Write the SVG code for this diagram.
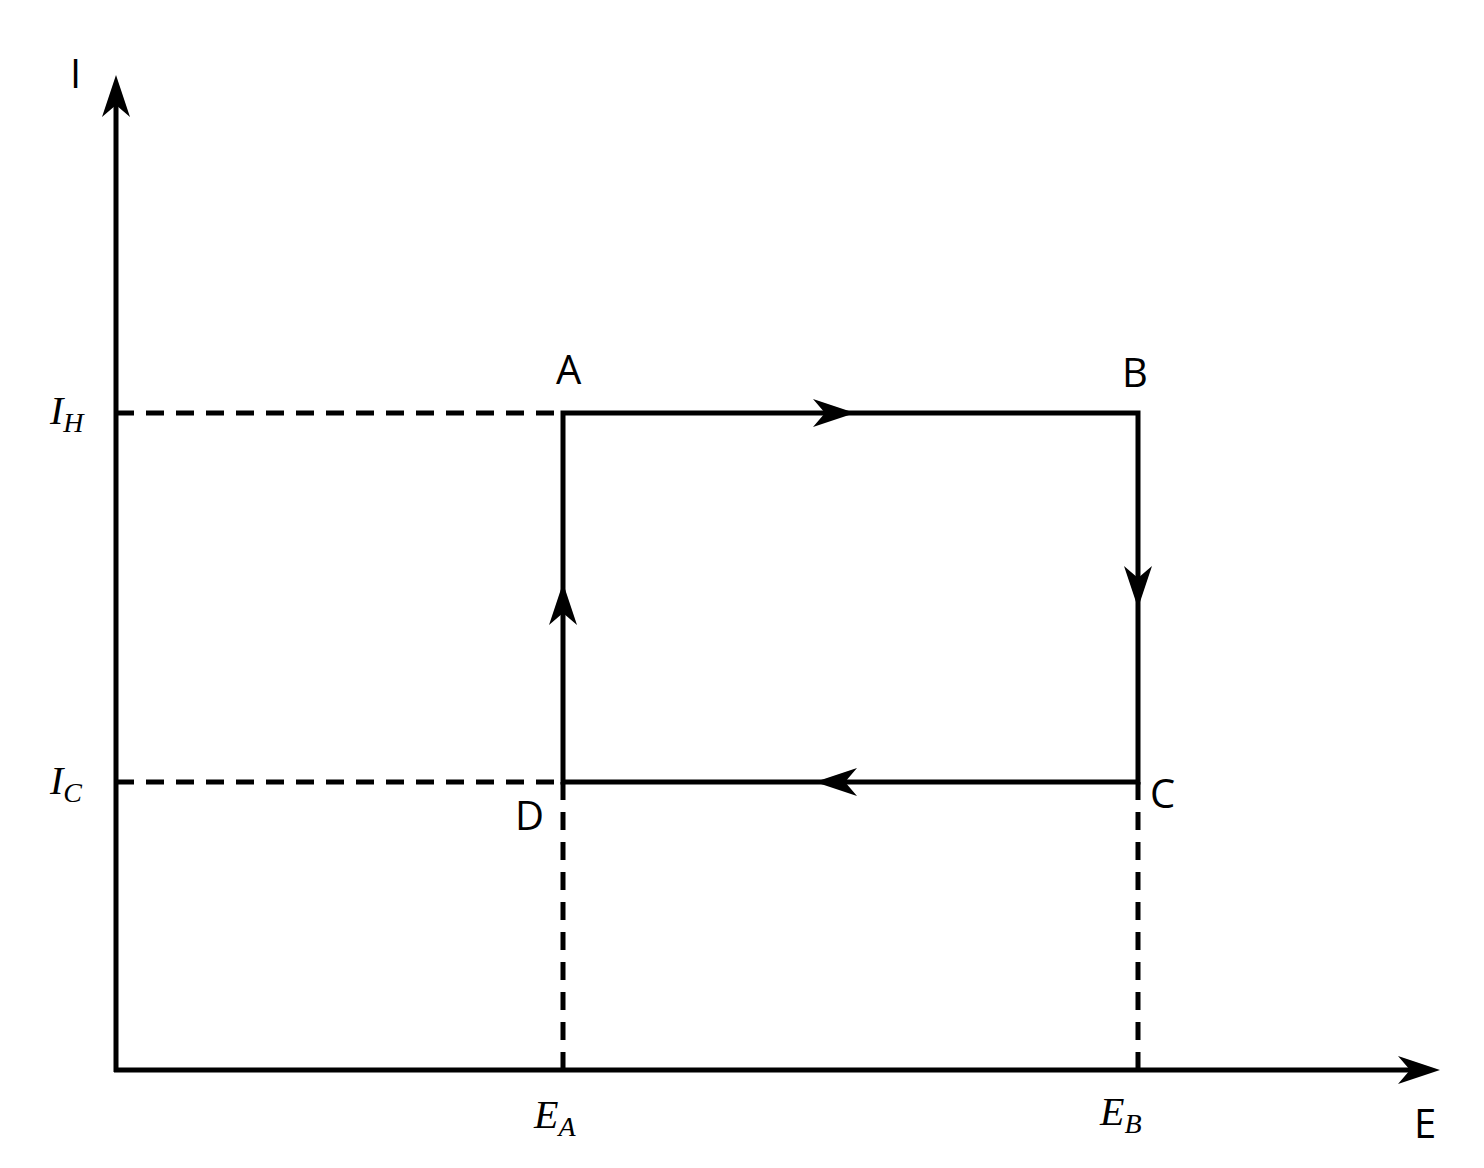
<svg xmlns="http://www.w3.org/2000/svg" width="1484" height="1168" viewBox="0 0 1484 1168">
<style>
.s{stroke:#000;stroke-width:5;fill:none}
.d{stroke:#000;stroke-width:5;fill:none;stroke-dasharray:18 12}
.lab{font-family:"Open Sans","DejaVu Sans",sans-serif;font-size:40px;fill:#000}
.m{font-family:"Liberation Serif",serif;font-style:italic;font-size:40px;fill:#000}
.sub{font-size:28px}
</style>
<defs>
<path id="ah" d="M0,0 L-42,-14 L-30,0 L-42,14 Z" fill="#000"/>
</defs>
<rect width="1484" height="1168" fill="#fff"/>
<g id="connectors">
<line class="s" x1="116" y1="1072" x2="116" y2="85"/>
<line class="s" x1="114" y1="1070" x2="1430" y2="1070"/>
<use href="#ah" transform="translate(116,75) rotate(-90)"/>
<use href="#ah" transform="translate(1440,1070)"/>
<line class="d" x1="116" y1="413" x2="563" y2="413"/>
<line class="d" x1="116" y1="782" x2="563" y2="782"/>
<line class="d" x1="563" y1="782" x2="563" y2="1070"/>
<line class="d" x1="1138" y1="782" x2="1138" y2="1070"/>
<path class="s" d="M563,782 L563,413 L1138,413 L1138,782 Z"/>
<use href="#ah" transform="translate(855,413)"/>
<use href="#ah" transform="translate(1138,608) rotate(90)"/>
<use href="#ah" transform="translate(815,782) rotate(180)"/>
<use href="#ah" transform="translate(563,583) rotate(-90)"/>
</g>
<g id="labels">
<text class="lab" x="70" y="88">I</text>
<text class="lab" x="1414" y="1138">E</text>
<text class="lab" x="556" y="384">A</text>
<text class="lab" x="1122" y="387">B</text>
<text class="lab" x="1150" y="808">C</text>
<text class="lab" x="515" y="830">D</text>
<text class="m" x="50" y="424">I<tspan class="sub" dy="8">H</tspan></text>
<text class="m" x="50" y="794">I<tspan class="sub" dy="8">C</tspan></text>
<text class="m" x="534" y="1128">E<tspan class="sub" dy="8">A</tspan></text>
<text class="m" x="1100" y="1125">E<tspan class="sub" dy="8">B</tspan></text>
</g>
</svg>
